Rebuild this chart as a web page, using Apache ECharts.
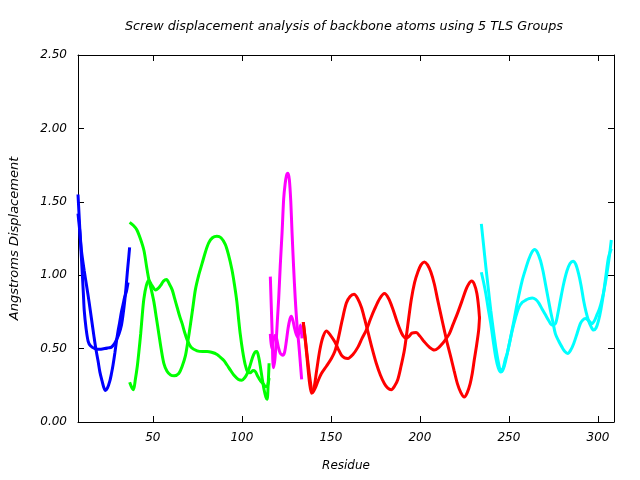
<!DOCTYPE html>
<html>
<head>
<meta charset="utf-8">
<script src="https://cdn.jsdelivr.net/npm/echarts@6/dist/echarts.min.js"></script>
<style>
html,body{margin:0;padding:0;background:#fff;}
#chart{width:640px;height:480px;}
</style>
</head>
<body>
<div id="chart"></div>
<script>
// ---- Data: [residue, screw displacement (Angstroms)] ----
// Group 1 (blue), residues 8-37
const blueA = [[8,1.55],[9,1.32],[10,1.1],[11,0.88],[11.5,0.76],[12.5,0.64],[13.7,0.55],[15,0.52],[17.5,0.5],[20,0.495],[23,0.5],[25,0.505],[26.8,0.51],[28.3,0.53],[29.6,0.56],[31,0.6],[32.4,0.66],[33.4,0.74],[34.2,0.82],[35,0.92],[35.7,1.02],[36.4,1.11],[37,1.19]];
const blueB = [[8,1.42],[9,1.3],[10,1.16],[11.5,1.03],[12.8,0.93],[14.2,0.82],[15.6,0.7],[17,0.58],[18,0.5],[19.2,0.42],[20.3,0.34],[21.5,0.28],[22.5,0.235],[23.4,0.215],[24.5,0.23],[25.9,0.28],[26.8,0.33],[27.7,0.39],[28.7,0.47],[29.6,0.55],[30.5,0.62],[31.4,0.68],[32.4,0.75],[33.3,0.8],[34.2,0.85],[35.2,0.89],[36.1,0.95]];
// Group 2 (green), residues 37-115
const greenA = [[37,1.36],[39,1.34],[41,1.31],[43,1.25],[45,1.17],[46.5,1.06],[47.8,0.97],[49.2,0.9],[50.6,0.82],[52,0.71],[53.4,0.6],[54.8,0.49],[56.2,0.4],[58,0.345],[60,0.32],[62,0.315],[64.6,0.33],[66.5,0.38],[68.3,0.45],[69.7,0.55],[71.1,0.66],[72.5,0.78],[73.9,0.9],[75.8,1.0],[77.7,1.08],[79.6,1.16],[81.4,1.22],[83.5,1.255],[86,1.265],[88.3,1.255],[90.7,1.21],[92.5,1.14],[94.4,1.04],[95.8,0.94],[97.2,0.82],[98.2,0.7],[99.1,0.6],[100.5,0.48],[101.9,0.39],[103.3,0.34],[104.7,0.335],[106.2,0.35],[107.5,0.345],[109,0.31],[110.5,0.28],[112,0.26],[113.5,0.24],[114.5,0.25],[115.3,0.3]];
const greenB = [[37,0.27],[38,0.24],[39.1,0.22],[40.2,0.29],[41.3,0.38],[42.2,0.48],[43.2,0.6],[44.1,0.73],[45,0.84],[46.4,0.93],[47.8,0.965],[49.5,0.93],[51.6,0.9],[53,0.91],[54.4,0.93],[56,0.96],[57.7,0.97],[59.3,0.94],[60.9,0.9],[62.3,0.84],[63.7,0.78],[65.1,0.72],[66.5,0.67],[67.9,0.61],[69.3,0.56],[71.5,0.51],[74.9,0.485],[78,0.48],[80.5,0.48],[83,0.475],[86.1,0.46],[88,0.44],[89.8,0.42],[91.6,0.39],[93.5,0.355],[95.5,0.32],[98.1,0.29],[100,0.285],[101.5,0.3],[103,0.33],[104.5,0.38],[106,0.44],[107.3,0.475],[108.4,0.48],[109.5,0.44],[110.5,0.37],[111.5,0.29],[112.5,0.22],[113.5,0.17],[114.2,0.155],[114.8,0.26],[115.3,0.4]];
// Group 3 (magenta), residues 116-134
const magentaA = [[116,0.99],[117,0.62],[117.7,0.37],[118.5,0.42],[119.3,0.55],[120,0.7],[120.7,0.84],[121.6,1.07],[122.6,1.29],[123.5,1.52],[124.3,1.62],[125.1,1.68],[125.9,1.695],[126.7,1.65],[127.5,1.5],[128.2,1.29],[129.1,1.05],[130,0.84],[131,0.66],[132.2,0.5],[133,0.38],[133.6,0.29]];
const magentaB = [[116,0.6],[116.8,0.5],[117.6,0.55],[118.6,0.59],[119.5,0.57],[120.5,0.51],[121.5,0.47],[122.3,0.46],[123,0.455],[124,0.475],[125,0.55],[126,0.64],[127,0.7],[127.8,0.72],[128.7,0.69],[129.6,0.64],[130.5,0.6],[131.4,0.58],[132.2,0.62],[133,0.66],[133.8,0.57]];
// Group 4 (red), residues 135-234
const redA = [[134.5,0.68],[135.7,0.55],[136.9,0.4],[138.1,0.26],[139.2,0.195],[140.5,0.23],[142,0.35],[143.8,0.49],[145.6,0.58],[147.5,0.62],[149.8,0.59],[152.2,0.546],[154,0.5],[155.9,0.456],[157.7,0.437],[159.6,0.433],[162.4,0.46],[165.2,0.51],[167.5,0.57],[169.9,0.626],[172.2,0.7],[174.6,0.77],[177.4,0.84],[180.1,0.875],[182.5,0.84],[184.8,0.77],[186.7,0.7],[188.5,0.64],[190.4,0.59],[192.3,0.57],[194,0.585],[195.5,0.605],[197.9,0.61],[200,0.585],[202.5,0.546],[205.3,0.51],[208.1,0.49],[210.4,0.505],[212.7,0.535],[214.6,0.565],[216.5,0.6],[218.8,0.67],[221.1,0.74],[223.5,0.82],[225.8,0.9],[227.4,0.94],[229,0.96],[230.5,0.94],[232,0.875],[233,0.78],[233.5,0.7]];
const redB = [[134.5,0.68],[135.7,0.56],[137,0.42],[138.2,0.3],[139.8,0.2],[141.2,0.23],[142.8,0.28],[144.7,0.33],[147.5,0.38],[150.3,0.433],[152.2,0.48],[154,0.56],[156.3,0.69],[158.7,0.81],[160.8,0.855],[163,0.87],[165.1,0.84],[167.2,0.78],[169,0.7],[170.9,0.61],[173.2,0.5],[175.5,0.4],[177.8,0.32],[180.1,0.26],[182,0.23],[183.9,0.22],[185.8,0.245],[187.6,0.29],[189.4,0.38],[191.3,0.49],[193.2,0.66],[195.1,0.83],[197,0.95],[198.8,1.02],[200.6,1.07],[202.5,1.09],[204.3,1.07],[206.2,1.02],[208.1,0.94],[210,0.83],[211.8,0.73],[213.7,0.626],[215.5,0.53],[217.4,0.44],[219.2,0.35],[221.1,0.26],[223,0.2],[224.9,0.17],[226.6,0.2],[228.2,0.26],[229.4,0.33],[230.5,0.42],[231.8,0.52],[233,0.626],[233.5,0.72]];
// Group 5 (cyan), residues 235-308
const cyanA = [[234.5,1.35],[235.8,1.2],[237,1.06],[238.4,0.91],[239.8,0.76],[241.2,0.63],[242.6,0.51],[244,0.41],[245.4,0.35],[246.8,0.37],[248,0.43],[249.1,0.47],[251,0.58],[252.8,0.69],[255,0.83],[257.5,0.966],[259.3,1.04],[261.2,1.11],[262.8,1.155],[264.4,1.175],[266,1.155],[267.7,1.1],[269.1,1.03],[270.5,0.94],[271.9,0.85],[273.3,0.76],[274.7,0.68],[276.1,0.6],[278,0.55],[279.8,0.51],[281.4,0.48],[283,0.467],[284.7,0.49],[286.4,0.535],[288.2,0.6],[290.1,0.67],[291.5,0.695],[292.9,0.705],[294.8,0.69],[296.6,0.67],[298,0.69],[299.4,0.73],[300.8,0.77],[302.2,0.83],[303.6,0.91],[305,1.01],[306.3,1.12],[307.5,1.24]];
const cyanB = [[234.5,1.02],[235.8,0.95],[237,0.875],[238.4,0.77],[239.8,0.67],[241.2,0.55],[242.6,0.44],[244,0.37],[245.4,0.34],[246.8,0.36],[248.2,0.42],[250,0.52],[251.9,0.626],[253.7,0.71],[255.6,0.78],[257.5,0.815],[259.4,0.83],[261.2,0.84],[263.1,0.845],[265,0.835],[266.8,0.81],[268.6,0.77],[270.5,0.73],[272.4,0.69],[274.2,0.66],[276.1,0.67],[277.5,0.74],[278.9,0.83],[280.7,0.94],[282.6,1.03],[284.3,1.08],[286,1.095],[287.5,1.075],[289.1,1.01],[290.5,0.93],[291.9,0.83],[293.3,0.75],[294.7,0.69],[296.1,0.65],[297.5,0.626],[298.9,0.64],[300.3,0.69],[301.7,0.77],[303.1,0.875],[304.5,1.0],[305.9,1.12],[307.5,1.18]];

const groups = [
  {data: blueA, color: '#0000ff'}, {data: blueB, color: '#0000ff'},
  {data: greenA, color: '#00ff00'}, {data: greenB, color: '#00ff00'},
  {data: magentaA, color: '#ff00ff'}, {data: magentaB, color: '#ff00ff'},
  {data: redA, color: '#ff0000'}, {data: redB, color: '#ff0000'},
  {data: cyanA, color: '#00ffff'}, {data: cyanB, color: '#00ffff'}
];

const titleText = 'Screw displacement analysis of backbone atoms using 5 TLS Groups';
const xName = 'Residue';
const yName = 'Angstroms Displacement';

const FONT = 'DejaVu Sans';
const lbl = {fontFamily: FONT, fontStyle: 'italic', fontSize: 12, color: '#000'};
const axLine = {show: true, onZero: false, lineStyle: {color: '#000', width: 1}};
const tick = {show: true, inside: true, length: 6, lineStyle: {color: '#000', width: 1}};

const chart = echarts.init(document.getElementById('chart'), null, {renderer: 'canvas'});
chart.setOption({
  animation: false,
  backgroundColor: '#fff',
  grid: {left: 77, right: 26, top: 55, bottom: 58, containLabel: false},
  graphic: [{
    type: 'text', x: 344, y: 20,
    style: {text: titleText, fontFamily: FONT, fontStyle: 'italic', fontSize: 12.75, fill: '#000', textAlign: 'center', textVerticalAlign: 'top'}
  }],
  xAxis: [{
    type: 'value', min: 8, max: 309, position: 'bottom',
    axisLine: axLine, axisTick: tick, splitLine: {show: false},
    axisLabel: Object.assign({margin: 10, showMinLabel: false, showMaxLabel: false}, lbl),
    name: xName, nameLocation: 'middle', nameGap: 38,
    nameTextStyle: lbl
  }, {
    type: 'value', min: 8, max: 309, position: 'top',
    axisLine: axLine, axisTick: tick, splitLine: {show: false},
    axisLabel: {show: false}
  }],
  yAxis: [{
    type: 'value', min: 0, max: 2.5, interval: 0.5, position: 'left',
    axisLine: axLine, axisTick: tick, splitLine: {show: false},
    axisLabel: Object.assign({margin: 11, formatter: v => v.toFixed(2)}, lbl),
    name: yName, nameLocation: 'middle', nameGap: 57, nameRotate: 90,
    nameTextStyle: Object.assign({}, lbl, {fontSize: 13})
  }, {
    type: 'value', min: 0, max: 2.5, interval: 0.5, position: 'right',
    axisLine: axLine, axisTick: tick, splitLine: {show: false},
    axisLabel: {show: false}
  }],
  series: groups.map(g => ({
    type: 'line', data: g.data, xAxisIndex: 0, yAxisIndex: 0,
    showSymbol: false, smooth: 0.3,
    lineStyle: {color: g.color, width: 3},
    itemStyle: {color: g.color}
  }))
});
</script>
</body>
</html>
